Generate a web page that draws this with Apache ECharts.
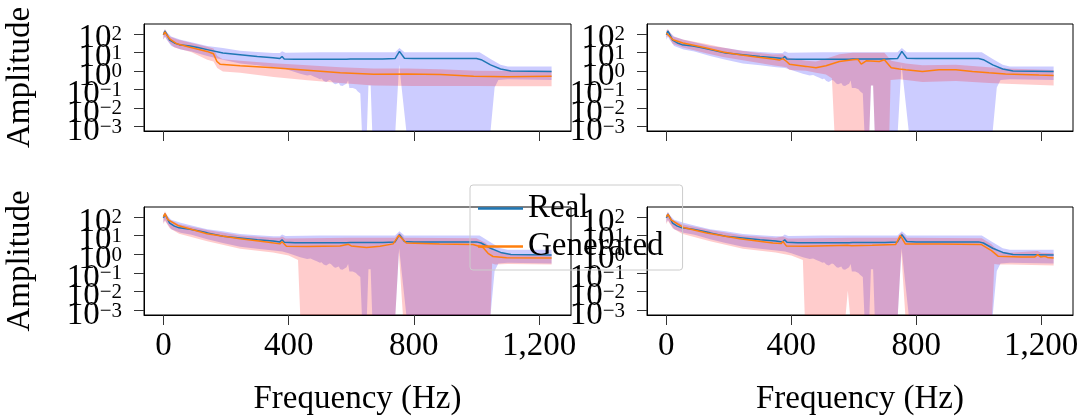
<!DOCTYPE html>
<html>
<head>
<meta charset="utf-8">
<script src="https://cdn.jsdelivr.net/npm/echarts@6/dist/echarts.min.js"></script>
<style>
html,body{margin:0;padding:0;background:#fff;}
#chart{width:1083px;height:418px;}
</style>
</head>
<body>
<div id="chart"></div>
<script>
// ---------- data (frequency in Hz, amplitude) ----------
const SERIES_NAMES = ['Real', 'Generated'];
const FREQ_TICKS = [0, 400, 800, 1200];
// amplitude decade ticks, split in three groups so the crowded labels are not auto-hidden
const AMP_TICK_GROUPS = [[100, 0.1], [10, 0.01], [1, 0.001]];
const X_LABEL = 'Frequency (Hz)';
const Y_LABEL = 'Amplitude';

// Real (same in all panels)
const REAL_MEAN = [[0,89],[5,141],[10,100],[20,46],[35,32],[50,26],[85,22],[110,18],[140,14],[190,9.1],[245,7.4],[300,6.0],[350,5.1],[372,4.6],[379,6.0],[386,4.4],[420,4.2],[585,4.2],[591,5.0],[597,4.3],[700,4.3],[740,4.6],[754,11.2],[770,4.8],[800,4.6],[1000,4.6],[1015,4.0],[1045,2.1],[1077,1.26],[1110,0.98],[1240,0.91]];
const REAL_UP = [[0,126],[5,178],[10,126],[25,71],[55,48],[90,35],[140,22],[190,17],[245,12.3],[300,10.5],[352,9.1],[372,9.1],[379,11.5],[390,9.5],[500,10],[740,10],[754,17],[770,10],[1010,10],[1045,4.4],[1077,2.1],[1100,1.74],[1240,1.74]];
const REAL_LO = [[0,48],[5,71],[10,50],[25,22],[55,14],[90,11.2],[140,6.3],[190,4.0],[245,2.5],[300,2.0],[352,1.58],[380,1.41],[400,1.12],[437,0.69],[459,0.56],[470,0.6],[480,0.5],[490,0.42],[500,0.35],[505,0.38],[512,0.28],[520,0.25],[530,0.32],[535,0.3],[545,0.2],[550,0.19],[560,0.22],[565,0.16],[572,0.15],[580,0.18],[585,0.2],[590,0.3],[594,0.12],[605,0.12],[615,0.1],[620,0.08],[629,0.06],[634,1e-6],[650,1e-6],[655,0.16],[662,0.16],[667,1e-6],[741,1e-6],[753,2.1],[776,1e-6],[1045,1e-6],[1058,0.126],[1070,0.32],[1100,0.35],[1240,0.32]];

// Generated, panel 1 (top left)
const G1_MEAN = [[0,89],[5,126],[10,89],[21,51],[43,29],[85,19],[139,11.2],[160,8.3],[171,3.2],[181,2.3],[245,1.9],[352,1.45],[459,1.07],[565,0.78],[672,0.65],[778,0.68],[885,0.63],[991,0.51],[1098,0.48],[1240,0.51]];
const G1_UP = [[0,126],[5,178],[20,71],[45,50],[90,32],[140,20],[160,16],[172,6.3],[190,4.2],[245,3.5],[352,2.6],[460,2.0],[565,1.58],[670,1.32],[780,1.32],[885,1.2],[1000,1.0],[1100,0.98],[1240,1.0]];
const G1_LO = [[0,50],[5,71],[20,32],[35,18],[90,10],[140,4.0],[160,3.2],[172,1.41],[190,0.93],[245,0.78],[352,0.47],[460,0.31],[565,0.22],[670,0.16],[800,0.15],[1000,0.15],[1100,0.145],[1240,0.145]];

// Generated, panel 2 (top right)
const G2_MEAN = [[0,110],[5,132],[21,48],[53,32],[128,17],[181,10.5],[235,7.4],[288,5.6],[341,4.4],[362,3.8],[373,4.6],[385,3.2],[394,2.3],[447,1.74],[479,1.45],[511,1.9],[554,3.2],[597,4.0],[613,4.2],[624,2.3],[640,3.5],[682,3.2],[698,4.0],[720,1.45],[746,1.26],[767,1.15],[820,0.93],[873,1.15],[927,1.15],[980,0.93],[1033,0.78],[1086,0.68],[1193,0.59],[1240,0.56]];
const G2_UP = [[0,158],[5,178],[21,71],[53,50],[128,28],[181,18],[235,12.6],[288,9.5],[341,7.6],[373,7.9],[394,5.0],[447,3.5],[479,3.2],[511,4.5],[554,7.9],[597,9.5],[640,9.5],[698,9.5],[720,3.5],[767,2.5],[820,2.0],[927,2.1],[1033,1.58],[1086,1.32],[1240,1.12]];
const G2_LO = [[0,63],[5,79],[21,28],[53,18],[128,8.9],[181,5.6],[235,4.0],[288,2.8],[341,2.0],[385,1.58],[394,1.12],[447,1.0],[479,0.79],[511,0.63],[530,0.4],[538,1e-6],[650,1e-6],[655,0.16],[662,0.16],[667,1e-6],[714,1e-6],[718,0.32],[746,0.35],[767,0.32],[820,0.25],[927,0.28],[1033,0.22],[1086,0.2],[1240,0.16]];

// Generated, panel 3 (bottom left)
const G3_MEAN = [[0,100],[5,150],[14,72],[46,35],[139,12.6],[245,6.8],[330,4.5],[372,3.6],[379,4.7],[393,2.7],[457,2.6],[564,2.8],[591,3.4],[600,2.8],[649,2.3],[692,2.7],[734,3.6],[752,10.2],[776,4.0],[882,3.6],[989,3.3],[1021,2.3],[1037,1.12],[1053,0.76],[1096,0.65],[1240,0.63]];
const G3_UP = [[0,126],[5,200],[20,71],[50,40],[140,20],[245,10],[350,7.6],[372,7.6],[379,8.9],[390,7.0],[600,7.6],[740,7.6],[754,14],[770,7.6],[1000,7.1],[1030,4.0],[1055,1.6],[1100,1.0],[1240,0.95]];
const G3_LO = [[0,40],[5,63],[20,25],[50,12.6],[140,5.0],[245,2.0],[350,1.26],[400,0.85],[430,0.5],[437,1e-6],[741,1e-6],[752,1.3],[765,1e-6],[1045,1e-6],[1050,0.32],[1060,0.28],[1100,0.3],[1240,0.28]];

// Generated, panel 4 (bottom right)
const G4_MEAN = [[0,100],[5,135],[15,70],[55,27],[129,13.8],[235,6.8],[341,4.0],[368,3.8],[373,4.9],[384,2.8],[447,2.7],[553,2.95],[580,3.0],[585,3.6],[592,2.9],[659,3.0],[734,3.3],[749,10.2],[765,3.6],[871,3.6],[1009,3.3],[1041,1.58],[1062,0.79],[1136,0.71],[1180,0.72],[1189,0.95],[1198,0.72],[1212,0.78],[1220,0.68],[1240,0.63]];
const G4_UP = [[0,126],[5,190],[20,71],[50,40],[140,20],[245,10],[350,7.6],[373,8.9],[390,7.0],[600,7.6],[740,7.6],[752,14],[770,7.6],[1010,7.1],[1040,3.5],[1062,1.5],[1100,1.2],[1189,1.5],[1200,1.2],[1240,1.15]];
const G4_LO = [[0,40],[5,63],[20,25],[50,12.6],[140,5.0],[245,2.0],[350,1.26],[400,0.85],[437,0.5],[443,1e-6],[574,1e-6],[581,0.011],[588,1e-6],[741,1e-6],[752,1.3],[765,1e-6],[1043,1e-6],[1050,0.3],[1062,0.28],[1100,0.28],[1240,0.25]];

const PANELS = [
  {mean: G1_MEAN, up: G1_UP, lo: G1_LO},
  {mean: G2_MEAN, up: G2_UP, lo: G2_LO},
  {mean: G3_MEAN, up: G3_UP, lo: G3_LO},
  {mean: G4_MEAN, up: G4_UP, lo: G4_LO}
];

// ---------- styling / layout ----------
const FONT = 'Liberation Serif';
const REAL_COLOR = '#1f77b4';
const GEN_COLOR = '#ff7f0e';
const REAL_FILL = 'rgba(0,0,255,0.2)';
const GEN_FILL = 'rgba(255,0,0,0.2)';
const X_MIN = -62, X_MAX = 1302;
const Y_MIN = Math.pow(10, -3.25), Y_MAX = Math.pow(10, 2.53);
const GRIDS = [
  {left: 144, top: 24, width: 427, height: 107},
  {left: 647, top: 24, width: 426, height: 107},
  {left: 144, top: 207, width: 427, height: 108},
  {left: 647, top: 207, width: 426, height: 108}
];

function expLabel(v) {
  const e = Math.round(Math.log10(v));
  const s = e < 0 ? '\u2212' + (-e) : String(e);
  return '{b|10}{s|' + s + '}';
}

function bandRenderer(up, lo, fill) {
  return function (params, api) {
    const cs = params.coordSys;
    const clampY = y => Math.max(cs.y, Math.min(cs.y + cs.height, y));
    const pts = [];
    up.forEach(d => { const p = api.coord(d); pts.push([p[0], clampY(p[1])]); });
    for (let i = lo.length - 1; i >= 0; i--) {
      const p = api.coord(lo[i]);
      pts.push([p[0], clampY(p[1])]);
    }
    return {type: 'polygon', shape: {points: pts}, style: {fill: fill}, silent: true};
  };
}

const grid = GRIDS.map(g => Object.assign({show: true, borderColor: '#000', borderWidth: 1, backgroundColor: 'transparent'}, g));
const xAxis = [], yAxis = [], series = [];

GRIDS.forEach((g, i) => {
  const bottom = i >= 2;
  const leftCol = i % 2 === 0;
  xAxis.push({
    type: 'value', gridIndex: i, min: X_MIN, max: X_MAX,
    splitLine: {show: false},
    axisLine: {show: true, onZero: false, lineStyle: {color: '#000', width: 1}},
    axisTick: {show: true, length: 10, customValues: FREQ_TICKS, lineStyle: {color: '#333', width: 1}},
    axisLabel: {
      show: bottom, customValues: FREQ_TICKS, margin: 15,
      showMinLabel: true, showMaxLabel: true, hideOverlap: false,
      fontFamily: FONT, fontSize: 33, color: '#000',
      formatter: v => v.toLocaleString('en-US')
    },
    name: bottom ? X_LABEL : '',
    nameLocation: 'middle', nameGap: 84,
    nameTextStyle: {fontFamily: FONT, fontSize: 33, color: '#000', verticalAlign: 'middle'}
  });
  const mainYIndex = yAxis.length;
  AMP_TICK_GROUPS.forEach((ticks, k) => {
    yAxis.push({
      type: 'log', gridIndex: i, min: Y_MIN, max: Y_MAX, logBase: 10, position: 'left',
      splitLine: {show: false},
      axisLine: {show: k === 0, onZero: false, lineStyle: {color: '#000', width: 1}},
      axisTick: {show: true, length: 10, customValues: ticks, lineStyle: {color: '#333', width: 1}},
      axisLabel: {
        show: true, customValues: ticks, margin: 22,
        showMinLabel: true, showMaxLabel: true, hideOverlap: false,
        verticalAlign: 'middle',
        formatter: expLabel,
        rich: {
          b: {fontFamily: FONT, fontSize: 33, color: '#000', lineHeight: 33, padding: [10, 0, 0, 0]},
          s: {fontFamily: FONT, fontSize: 21, color: '#000', lineHeight: 21, padding: [7, 0, 0, 0], verticalAlign: 'top'}
        }
      },
      name: (leftCol && k === 0) ? Y_LABEL : '',
      nameLocation: 'middle', nameGap: 124, nameRotate: 90,
      nameTextStyle: {fontFamily: FONT, fontSize: 33, color: '#000', verticalAlign: 'middle'}
    });
  });
  const p = PANELS[i];
  series.push({
    type: 'custom', name: 'Real band', xAxisIndex: i, yAxisIndex: mainYIndex,
    data: [[0, 1]], clip: true, silent: true,
    renderItem: bandRenderer(REAL_UP, REAL_LO, REAL_FILL)
  });
  series.push({
    type: 'line', name: SERIES_NAMES[0], xAxisIndex: i, yAxisIndex: mainYIndex,
    data: REAL_MEAN, showSymbol: false, symbol: 'none', silent: true,
    itemStyle: {color: REAL_COLOR}, lineStyle: {color: REAL_COLOR, width: 1.5}
  });
  series.push({
    type: 'custom', name: 'Generated band', xAxisIndex: i, yAxisIndex: mainYIndex,
    data: [[0, 1]], clip: true, silent: true,
    renderItem: bandRenderer(p.up, p.lo, GEN_FILL)
  });
  series.push({
    type: 'line', name: SERIES_NAMES[1], xAxisIndex: i, yAxisIndex: mainYIndex,
    data: p.mean, showSymbol: false, symbol: 'none', silent: true,
    itemStyle: {color: GEN_COLOR}, lineStyle: {color: GEN_COLOR, width: 1.5}
  });
});

const chart = echarts.init(document.getElementById('chart'), null, {renderer: 'canvas'});
chart.setOption({
  animation: false,
  backgroundColor: '#fff',
  grid: grid,
  xAxis: xAxis,
  yAxis: yAxis,
  legend: {
    show: true, orient: 'vertical', left: 470, top: 185,
    data: SERIES_NAMES.map(n => ({name: n, icon: 'rect'})),
    itemWidth: 45, itemHeight: 2.5, itemGap: 5,
    padding: [7, 19, 7, 8],
    borderColor: '#cccccc', borderWidth: 1, borderRadius: 3,
    backgroundColor: 'transparent',
    textStyle: {fontFamily: FONT, fontSize: 33, color: '#000'},
    selectedMode: false
  },
  series: series
});
</script>
</body>
</html>
